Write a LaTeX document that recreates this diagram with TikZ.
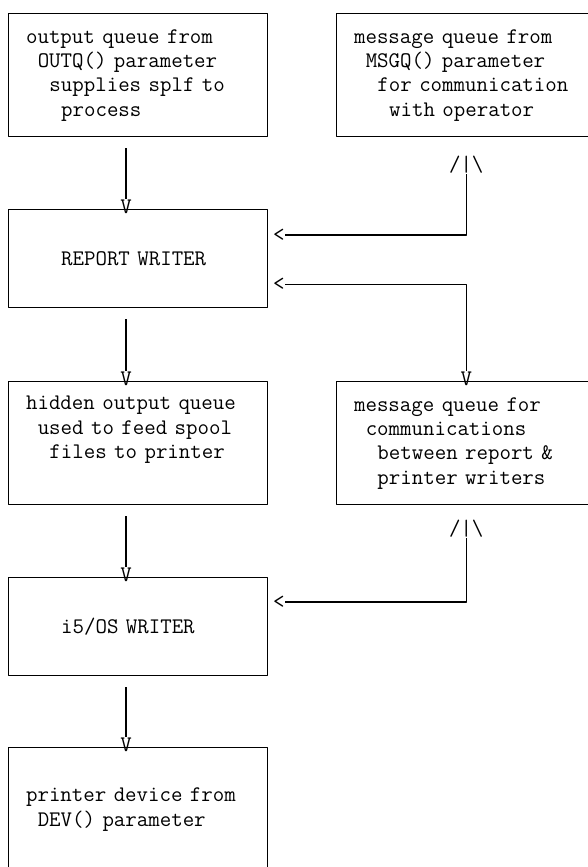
\documentclass[tikz,border=0pt]{standalone}
\newlength\charw
\setlength\charw{8.77pt}
\newcommand{\pad}[1]{\hspace*{#1\charw}}
\begin{document}
\begin{tikzpicture}[line width = 1.1pt, line join=round, x=0.75pt, y=-0.75pt,
	txt/.style = {font=\ttfamily\fontsize{16.7pt}{18.3pt}\selectfont},
	kasten/.style = {txt, draw, anchor=north west, align=left, text width=168.25pt, inner xsep=13pt, minimum width=194.25pt},
	hoch/.style = {kasten, minimum height=92.25pt},
	flach/.style = {kasten, minimum height=73.5pt},
	spitze/.style = {txt, inner sep=0pt}]
	% Rahmen
	\useasboundingbox (0,0) rectangle (587,867);
	\coordinate (links) at (126,0);
	% Kaesten
	\node [hoch] (outq) at (8,13) {output queue from\\\pad{1}OUTQ() parameter\\\pad{2}supplies splf to\\\pad{3}process};
	\node [hoch] (msgq) at (336,13) {message queue from\\\pad{1}MSGQ() parameter\\\pad{2}for communication\\\pad{3}with operator};
	\node [flach] (report) at (8,209) {\pad{3}REPORT WRITER};
	\node [hoch] (hidden) at (8,381) {hidden output queue\\\pad{1}used to feed spool\\\pad{2}files to printer\\\strut};
	\node [hoch] (comm) at (336,381) {message queue for\\\pad{1}communications\\\pad{2}between report \&\\\pad{2}printer writers};
	\node [flach] (i5os) at (8,577) {\pad{3}i5/OS WRITER};
	\node [hoch] (printer) at (8,747) {\strut\\printer device from\\\pad{1}DEV() parameter\\\strut};
	% Spitzen
	\node [spitze, anchor=base] (v1) at ([yshift=-3pt]report.north -| links) {V};
	\node [spitze, anchor=base] (v2) at ([yshift=-3pt]comm.north) {V};
	\node [spitze, anchor=base] (v3) at ([yshift=-3pt]hidden.north -| links) {V};
	\node [spitze, anchor=base] (v4) at ([yshift=-3pt]i5os.north -| links) {V};
	\node [spitze, anchor=base] (v5) at ([yshift=-3pt]printer.north -| links) {V};
	\node [spitze, anchor=north] (hoch1) at ([yshift=-13.5pt]msgq.south) {/|\textbackslash};
	\node [spitze, anchor=north] (hoch2) at ([yshift=-10.5pt]comm.south) {/|\textbackslash};
	\node [spitze, anchor=west] (l1) at ([xshift=3pt,yshift=-19.5pt]report.north east) {<};
	\node [spitze, anchor=west] (l2) at ([xshift=3pt,yshift=18pt]report.south east) {<};
	\node [spitze, anchor=west] (l3) at ([xshift=3pt,yshift=-18.75pt]i5os.north east) {<};
	% Verbindungen links
	\draw ([yshift=-8pt]outq.south -| links) -- (v1.north);
	\draw ([yshift=-8pt]report.south -| links) -- (v3.north);
	\draw ([yshift=-8pt]hidden.south -| links) -- (v4.north);
	\draw ([yshift=-8pt]i5os.south -| links) -- (v5.north);
	% Verbindungen rechts
	\draw (hoch1.south) |- (l1.east);
	\draw (l2.east) -| (v2.north);
	\draw (hoch2.south) |- (l3.east);
\end{tikzpicture}
\end{document}
